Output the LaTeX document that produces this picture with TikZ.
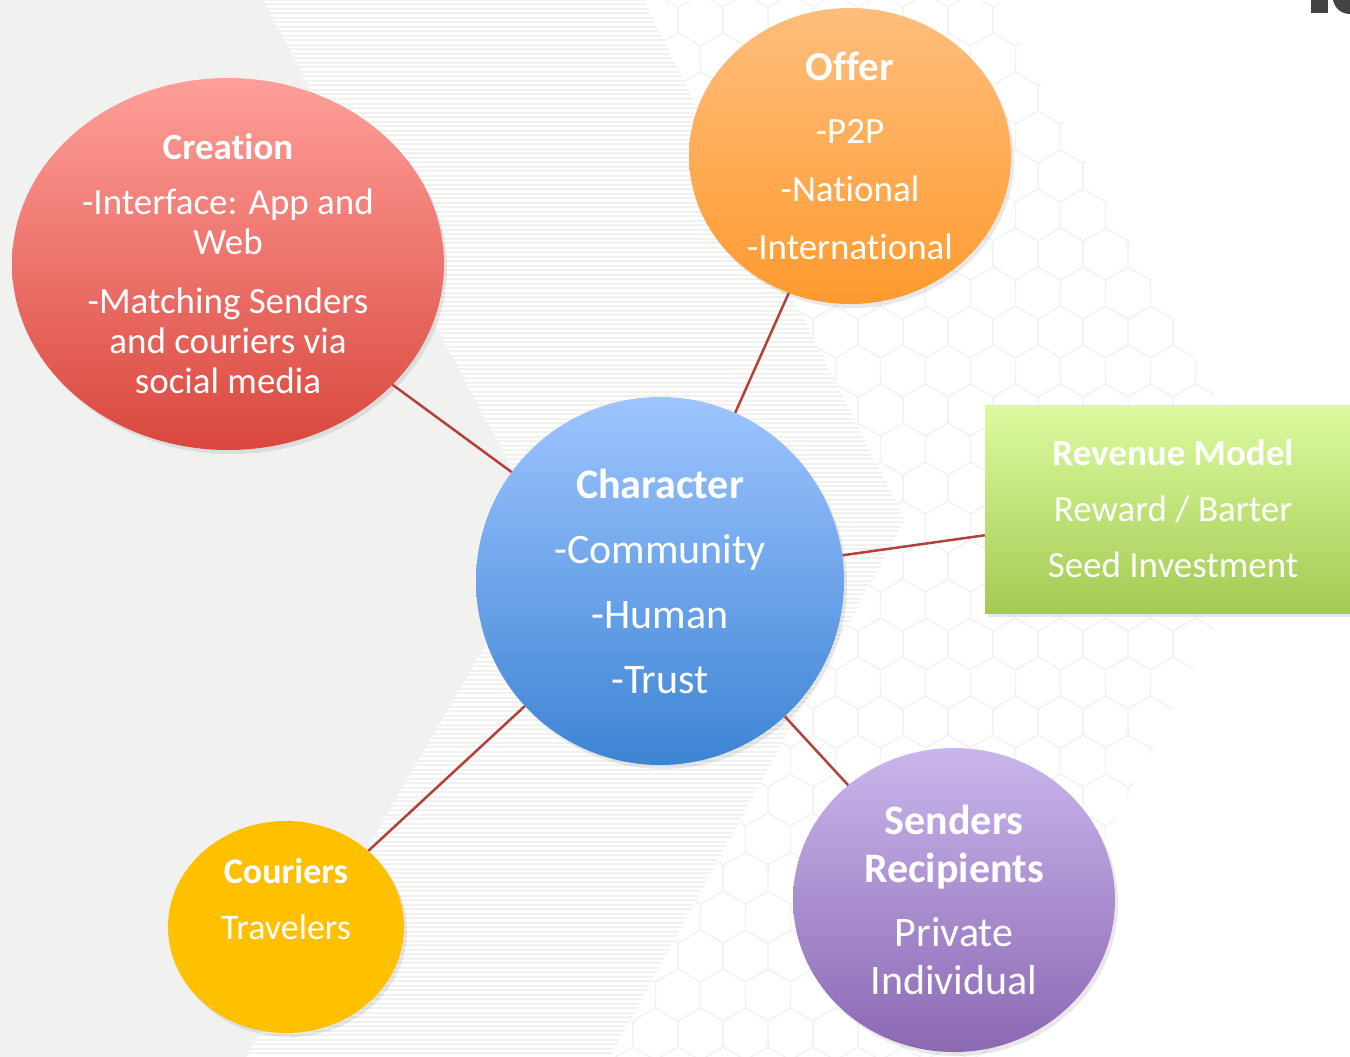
\documentclass[tikz,border=0pt]{standalone}
\usepackage{fontspec}
\setmainfont{Carlito}[Ligatures=NoCommon, Contextuals=NoAlternate]
\usetikzlibrary{shapes.geometric,shadows}
\definecolor{bggrey}{HTML}{F1F2EF}
\definecolor{hexgrey}{HTML}{F1F1F1}
\definecolor{logogrey}{HTML}{444444}
\definecolor{linkred}{HTML}{B3413B}
\definecolor{crtop}{HTML}{FF9F9A}
\definecolor{crbot}{HTML}{D9473D}
\definecolor{oftop}{HTML}{FFBE7D}
\definecolor{ofbot}{HTML}{FF9A2E}
\definecolor{chtop}{HTML}{9EC5FF}
\definecolor{chbot}{HTML}{3D84D4}
\definecolor{rvtop}{HTML}{DCFBA0}
\definecolor{rvbot}{HTML}{A3CA52}
\definecolor{cufill}{HTML}{FFC000}
\definecolor{sntop}{HTML}{C9B6EC}
\definecolor{snbot}{HTML}{8B68B3}

\begin{document}
\begin{tikzpicture}[x=1pt,y=-1pt,
  bubble/.style={ellipse, inner sep=0pt, align=center, text=white,
    drop shadow={shadow xshift=3pt, shadow yshift=-4pt, opacity=.18}},
  revbox/.style={rectangle, inner sep=0pt, align=center, text=white,
    drop shadow={shadow xshift=3pt, shadow yshift=-4pt, opacity=.18}},
  link/.style={draw=linkred, line width=2.5pt},
  hexline/.style={draw=hexgrey, line width=1pt},
]
  \useasboundingbox (0,0) rectangle (1350,1057);
  \clip (0,0) rectangle (1350,1057);

  % background
  \fill[white] (0,0) rectangle (1350,1057);
  \fill[bggrey] (0,0) -- (263,0) -- (548,537) -- (246,1057) -- (0,1057) -- cycle;
  \begin{scope}
    \clip (263,0) -- (643,0) -- (905,520) -- (610,1057) -- (246,1057) -- (548,537) -- cycle;
    \foreach \y in {0,4.5,...,1057}
      \draw[bggrey, line width=2pt] (240,\y) -- (910,\y);
  \end{scope}
  \begin{scope}
    \clip (643,0) -- (997,0) -- (1277,509) -- (992,1057) -- (610,1057) -- (905,520) -- cycle;
    \foreach \j in {0,...,27}
      \foreach \i in {0,...,15}{
        \pgfmathsetmacro{\hx}{610.5+45*\i+22.5*mod(\j,2)}
        \pgfmathsetmacro{\hy}{20+39*\j}
        \draw[hexline] (\hx,\hy) +(30:26) -- +(90:26) -- +(150:26) -- +(210:26) -- +(270:26) -- +(330:26) -- cycle;
      }
  \end{scope}
  \fill[logogrey] (1311,0) rectangle (1328,13);
  \fill[logogrey] (1333,0) .. controls (1335,9) and (1342,14) .. (1350,14) -- (1350,0) -- cycle;

  % bubbles
  \node[bubble, top color=crtop, bottom color=crbot, minimum width=432, minimum height=372,
    font=\fontsize{37}{40}\selectfont] (creation) at (228,264)
    {\bfseries Creation\\[15pt] -Interface: App and\\ Web\\[19pt] -Matching Senders\\ and couriers via\\ social media};
  \node[bubble, top color=oftop, bottom color=ofbot, minimum width=322, minimum height=296,
    font=\fontsize{37}{58}\selectfont] (offer) at (850,156)
    {\fontsize{41}{58}\selectfont\bfseries Offer\\[5pt] -P2P\\ -National\\ -International};
  \node[bubble, top color=chtop, bottom color=chbot, minimum width=368, minimum height=368,
    font=\fontsize{42}{65}\selectfont] (char) at (660,581)
    {\bfseries Character\\ -Community\\ -Human\\ -Trust};
  \node[revbox, top color=rvtop, bottom color=rvbot, minimum width=376, minimum height=208,
    font=\fontsize{37}{56}\selectfont] (revenue) at (1173,509)
    {\bfseries Revenue Model\\ Reward / Barter\\ Seed Investment};
  \node[bubble, fill=cufill, minimum width=236, minimum height=212,
    font=\fontsize{36}{56}\selectfont] (couriers) at (286,927)
    {\bfseries Couriers\\ Travelers\\ \mbox{}};
  \node[bubble, top color=sntop, bottom color=snbot, minimum width=322, minimum height=304,
    font=\fontsize{42}{48}\selectfont] (senders) at (954,900)
    {\bfseries Senders\\ \bfseries Recipients\\[16pt] Private\\ Individual};

  % spokes
  \draw[link] (char) -- (creation);
  \draw[link] (char) -- (offer);
  \draw[link] (char) -- (revenue);
  \draw[link] (char) -- (couriers);
  \draw[link] (char) -- (senders);
\end{tikzpicture}
\end{document}
